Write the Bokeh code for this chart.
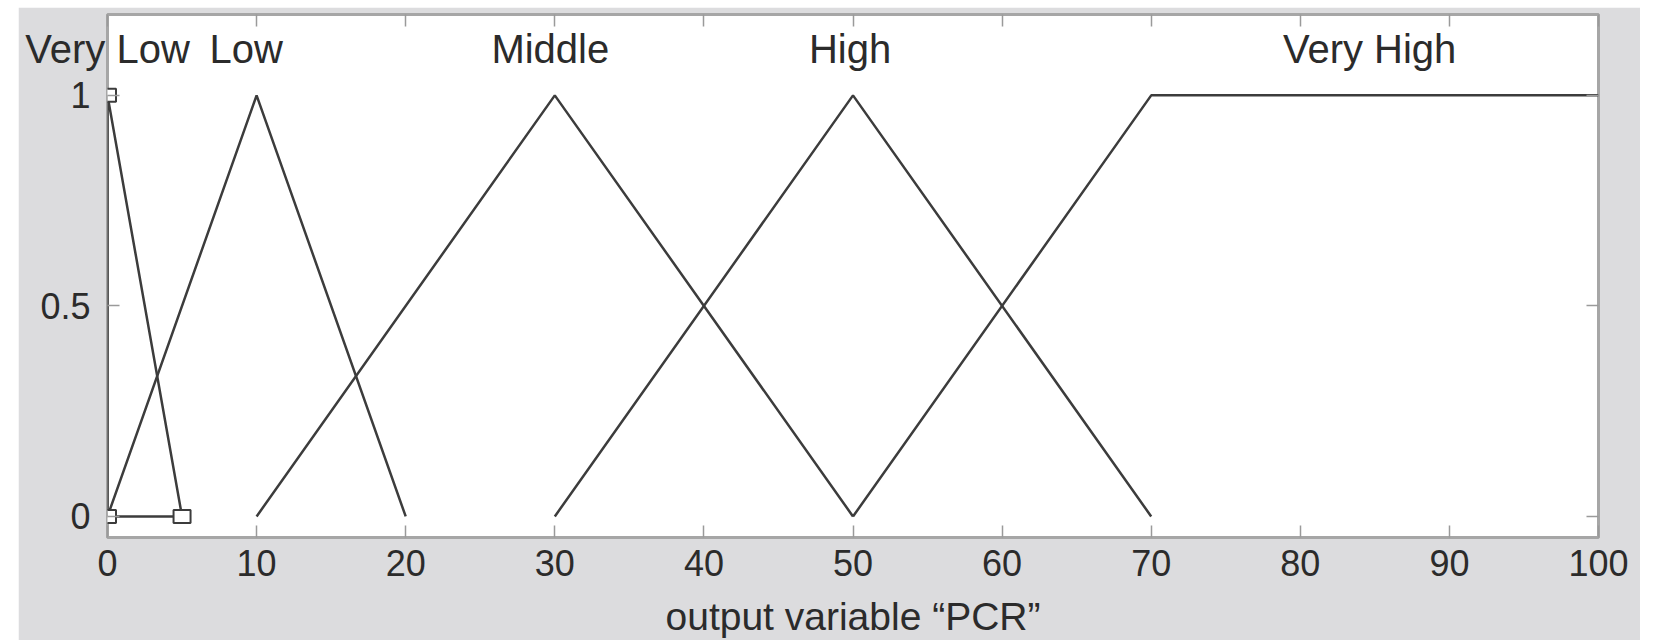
from bokeh.plotting import figure
from bokeh.models import LinearAxis, FixedTicker, Range1d, Spacer
from bokeh.layouts import row, column
from bokeh.embed import file_html
from bokeh.resources import INLINE

# ---- data ----
mf_names = ["Very Low", "Low", "Middle", "High", "Very High"]
mf_label_x = [0, 9.3, 29.7, 49.8, 84.65]
very_low_x = [0, 0, 5, 0]
very_low_y = [0, 1, 0, 0]
low_x = [0, 10, 20]
low_y = [0, 1, 0]
middle_x = [10, 30, 50]
middle_y = [0, 1, 0]
high_x = [30, 50, 70]
high_y = [0, 1, 0]
very_high_x = [50, 70, 100]
very_high_y = [0, 1, 1]
handle_x = [0, 0, 5]
handle_y = [0, 1, 0]
x_ticks = [0, 10, 20, 30, 40, 50, 60, 70, 80, 90, 100]
y_ticks = [0, 0.5, 1]
x_label = "output variable \u201cPCR\u201d"

FONT = "Liberation Sans"
BG = "#dcdcde"
INK = "#2b2b2b"
LINE = "#3c3c3c"
TICK = "#9a9a9a"

p = figure(width=1622, height=633, output_backend="svg", toolbar_location=None,
           x_range=Range1d(0, 100), y_range=Range1d(-0.05, 1.192),
           min_border_left=89, min_border_right=42, min_border_top=7,
           min_border_bottom=102)
p.border_fill_color = BG
p.background_fill_color = "white"
p.outline_line_color = "#a6a6a6"
p.outline_line_width = 3
p.grid.visible = False

for ax in (p.xaxis[0], p.yaxis[0]):
    ax.axis_line_color = None
    ax.major_tick_in = 12
    ax.major_tick_out = 0
    ax.major_tick_line_color = TICK
    ax.major_tick_line_width = 1.5
    ax.minor_tick_line_color = None
    ax.major_label_text_font = FONT
    ax.major_label_text_font_size = "36px"
    ax.major_label_text_color = INK

p.xaxis[0].ticker = FixedTicker(ticks=x_ticks)
p.yaxis[0].ticker = FixedTicker(ticks=y_ticks)
p.xaxis[0].major_label_standoff = 12
p.yaxis[0].major_label_standoff = 17
p.yaxis[0].major_label_overrides = {0: "0", 0.5: "0.5", 1: "1"}
p.xaxis[0].axis_label = x_label
p.xaxis[0].axis_label_text_font = FONT
p.xaxis[0].axis_label_text_font_size = "39px"
p.xaxis[0].axis_label_text_font_style = "normal"
p.xaxis[0].axis_label_text_color = INK
p.xaxis[0].axis_label_standoff = 16

# tick-only axes on top and right
top = LinearAxis(ticker=FixedTicker(ticks=x_ticks),
                 major_label_overrides={t: "" for t in x_ticks})
right = LinearAxis(ticker=FixedTicker(ticks=y_ticks),
                   major_label_overrides={t: "" for t in y_ticks})
for ax in (top, right):
    ax.axis_line_color = None
    ax.major_tick_in = 12
    ax.major_tick_out = 0
    ax.major_tick_line_color = TICK
    ax.major_tick_line_width = 1.5
    ax.minor_tick_line_color = None
    ax.major_label_text_font_size = "1px"
    ax.major_label_standoff = 0
p.add_layout(top, "above")
p.add_layout(right, "right")

# membership-function names, drawn inside the frame near the top
names_axis = LinearAxis(ticker=FixedTicker(ticks=mf_label_x),
                        major_label_overrides=dict(zip(mf_label_x, mf_names)))
names_axis.axis_line_color = None
names_axis.major_tick_line_color = None
names_axis.minor_tick_line_color = None
names_axis.major_tick_in = 0
names_axis.major_tick_out = 0
names_axis.major_label_standoff = -56
names_axis.major_label_text_font = FONT
names_axis.major_label_text_font_size = "40px"
names_axis.major_label_text_color = INK
p.add_layout(names_axis, "above")

# membership functions
for xs, ys in [(very_low_x, very_low_y), (low_x, low_y), (middle_x, middle_y),
               (high_x, high_y), (very_high_x, very_high_y)]:
    p.line(xs, ys, line_color=LINE, line_width=2.5)

p.rect(handle_x, handle_y, width=17, height=13, width_units="screen",
       height_units="screen", fill_color="white", line_color=LINE, line_width=2)

layout = column(Spacer(width=1640, height=7),
                row(Spacer(width=18, height=633), p))
open("out.html", "w").write(file_html(layout, INLINE))
